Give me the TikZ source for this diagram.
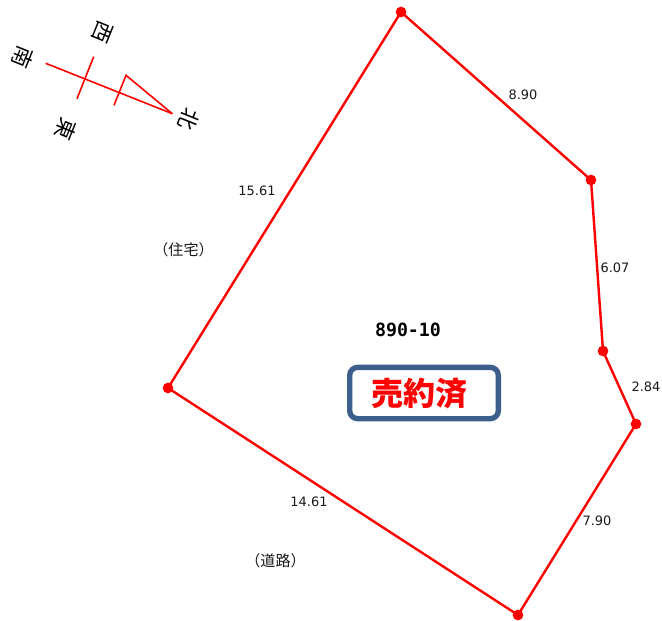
\documentclass[tikz,border=0pt]{standalone}
\usepackage{fontspec}
\setmainfont{DejaVu Sans}
\newfontfamily\cjk{Noto Sans CJK JP}
\newfontfamily\monob{DejaVu Sans Mono}
\begin{document}
\begin{tikzpicture}[x=0.75pt,y=-0.75pt,
  redline/.style={draw=red,line width=1.8pt,line join=round},
  thinred/.style={draw=red,line width=1.2pt},
  corner/.style={circle,fill=red,inner sep=0pt,minimum size=8pt},
  dim/.style={font=\fontsize{9.7pt}{11pt}\selectfont,inner sep=0pt,text=black!90},
  jp/.style={font=\cjk\fontsize{11.3pt}{13pt}\selectfont,inner sep=0pt,text=black!90},
  compasslabel/.style={font=\cjk\fontsize{16pt}{17pt}\selectfont,inner sep=0pt,rotate=-112}]
\useasboundingbox (0,0) rectangle (662,621);
\node[corner] (a) at (401,12) {};
\node[corner] (b) at (591,180) {};
\node[corner] (c) at (603,351) {};
\node[corner] (d) at (636,424) {};
\node[corner] (e) at (518,615) {};
\node[corner] (f) at (168,388) {};
\draw[redline] (a.center) -- (b.center) -- (c.center) -- (d.center) -- (e.center) -- (f.center) -- cycle;
\node[dim] (l1) at (523,95) {8.90};
\node[dim] (l2) at (615,268) {6.07};
\node[dim] (l3) at (646,387) {2.84};
\node[dim] (l4) at (597,521) {7.90};
\node[dim] (l5) at (309,502) {14.61};
\node[dim] (l6) at (257,191) {15.61};
\node[jp] (t1) at (183.5,250) {（住宅）};
\node[jp] (t2) at (275.5,561) {（道路）};
\node[font=\monob\bfseries\fontsize{13.7pt}{15pt}\selectfont,inner sep=0pt] (num) at (408,329.5) {890-10};
\node[draw={rgb,255:red,60;green,95;blue,140},line width=4pt,rounded corners=6pt,minimum width=111.5pt,minimum height=38.5pt,inner sep=0pt] (box) at (424,393) {};
\node[font=\cjk\bfseries\fontsize{24pt}{26pt}\selectfont,text=red,inner sep=0pt] (sold) at (419.5,393) {売約済};
\coordinate (s) at (45.7,63.3);
\coordinate (n) at (172.3,113.7);
\coordinate (p1) at (93.7,56.7);
\coordinate (p2) at (77,98.7);
\coordinate (q1) at (126,75.3);
\coordinate (q2) at (114,105.3);
\draw[thinred] (s) -- (n);
\draw[thinred] (p1) -- (p2);
\draw[thinred] (q2) -- (q1) -- (n);
\node[compasslabel] (west) at (102,32) {西};
\node[compasslabel] (south) at (23,57) {南};
\node[compasslabel] (east) at (66,129) {東};
\node[compasslabel] (north) at (189,119) {北};
\end{tikzpicture}
\end{document}
